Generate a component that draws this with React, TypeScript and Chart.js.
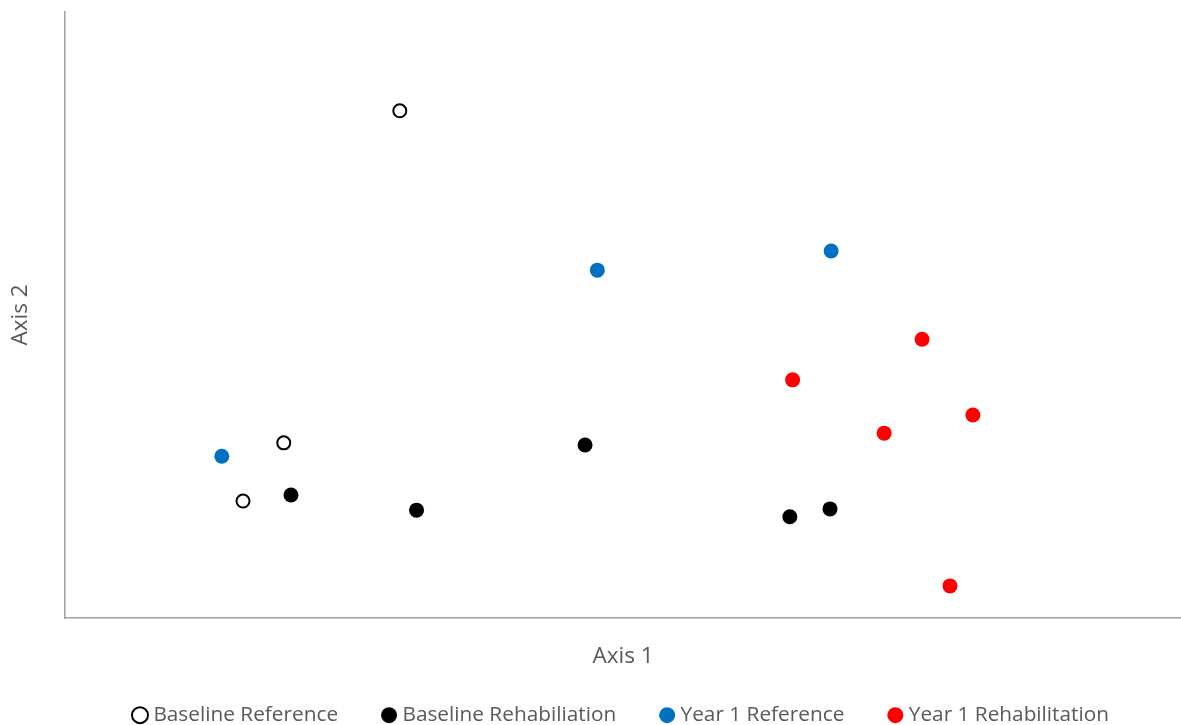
import React, { useEffect, useRef } from "react";
import { Chart, registerables } from "chart.js";

Chart.register(...registerables);

const baselineReferenceX = [30.0, 19.6, 15.95];
const baselineReferenceY = [83.7, 28.9, 19.3];
const baselineRehabX = [20.25, 31.5, 46.6, 64.95, 68.55];
const baselineRehabY = [20.3, 17.8, 28.55, 16.7, 18.0];
const year1ReferenceX = [14.05, 47.7, 68.65];
const year1ReferenceY = [26.7, 57.4, 60.55];
const year1RehabX = [65.2, 76.8, 73.4, 81.35, 79.3];
const year1RehabY = [39.3, 46.0, 30.5, 33.5, 5.3];

const seriesNames = ["Baseline Reference", "Baseline Rehabiliation", "Year 1 Reference", "Year 1 Rehabilitation"];
const axisTitles = ["Axis 1", "Axis 2"];

const toPoints = (xs: number[], ys: number[]) => xs.map((x, i) => ({ x, y: ys[i] }));

export default function App() {
  const ref = useRef<HTMLCanvasElement | null>(null);
  useEffect(() => {
    if (!ref.current) return;
    const font = "'Open Sans', sans-serif";
    const chart = new Chart(ref.current, {
      type: "scatter",
      data: {
        datasets: [
          {
            label: seriesNames[0],
            data: toPoints(baselineReferenceX, baselineReferenceY),
            backgroundColor: "#ffffff",
            borderColor: "#000000",
            borderWidth: 2,
            pointRadius: 6.5,
          },
          {
            label: seriesNames[1],
            data: toPoints(baselineRehabX, baselineRehabY),
            backgroundColor: "#000000",
            borderColor: "#000000",
            borderWidth: 0,
            pointRadius: 7.5,
          },
          {
            label: seriesNames[2],
            data: toPoints(year1ReferenceX, year1ReferenceY),
            backgroundColor: "#0070C0",
            borderColor: "#0070C0",
            borderWidth: 0,
            pointRadius: 7.5,
          },
          {
            label: seriesNames[3],
            data: toPoints(year1RehabX, year1RehabY),
            backgroundColor: "#FF0000",
            borderColor: "#FF0000",
            borderWidth: 0,
            pointRadius: 7.5,
          },
        ],
      },
      options: {
        animation: false,
        responsive: false,
        maintainAspectRatio: false,
        layout: { autoPadding: false, padding: { top: 12, right: 0, left: 0, bottom: 0 } },
        plugins: {
          tooltip: { enabled: false },
          legend: {
            position: "bottom",
            fullSize: false,
            maxHeight: 68.25,
            labels: {
              usePointStyle: true,
              pointStyle: "circle",
              boxWidth: 6,
              boxHeight: 11.3,
              padding: 48,
              color: "#595959",
              font: { family: font, size: 20.8 },
            },
          },
        },
        scales: {
          x: {
            type: "linear",
            min: 0,
            max: 100,
            grid: { display: false, drawTicks: false },
            ticks: { display: false },
            border: { display: true, color: "#a0a0a0", width: 1.5 },
            title: { display: true, text: axisTitles[0], color: "#595959", font: { family: font, size: 22.5 }, padding: { top: 25, bottom: -13.25 } },
          },
          y: {
            type: "linear",
            min: 0,
            max: 100,
            grid: { display: false, drawTicks: false },
            ticks: { display: false },
            border: { display: true, color: "#a0a0a0", width: 1.5 },
            title: { display: true, text: axisTitles[1], color: "#595959", font: { family: font, size: 22.5 }, padding: { top: 7.5, bottom: 30.5 } },
          },
        },
      },
    });
    return () => chart.destroy();
  }, []);
  return (
    <div style={{ position: "absolute", left: 0, top: 0, width: 1181, height: 725, background: "#fff" }}>
      <canvas ref={ref} width={1181} height={725} style={{ display: "block" }} />
    </div>
  );
}
